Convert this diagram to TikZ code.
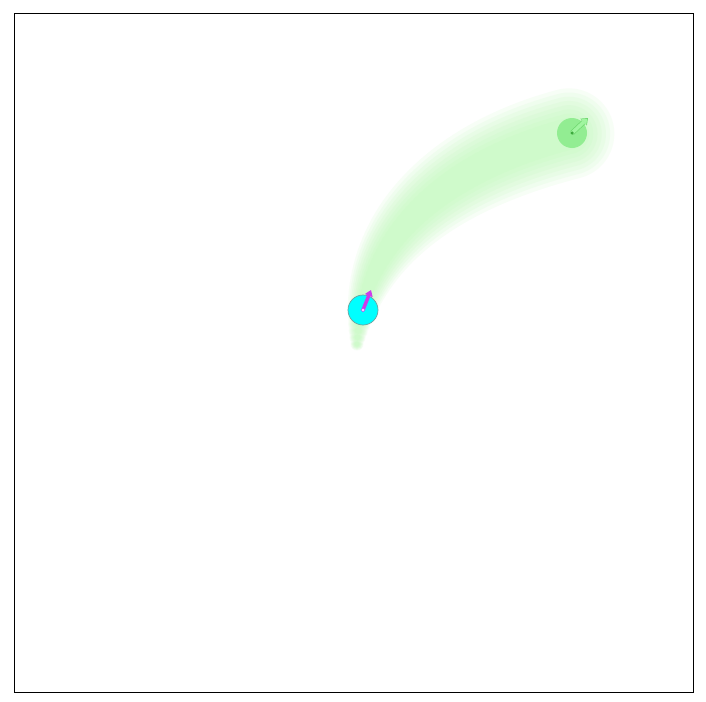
\documentclass[tikz,border=0pt]{standalone}
\usetikzlibrary{arrows.meta}
\definecolor{blobgreen}{RGB}{192,250,186}
\definecolor{agentcyan}{RGB}{0,255,255}
\definecolor{agentedge}{RGB}{110,160,160}
\definecolor{headmag}{RGB}{205,60,235}
\definecolor{goalfill}{RGB}{140,236,140}
\definecolor{goaldot}{RGB}{60,170,60}
\definecolor{goalarrow}{RGB}{160,245,160}
\definecolor{goalarrowedge}{RGB}{110,215,110}
\tikzset{
  blobdot/.style={circle, fill=blobgreen, inner sep=0pt, draw=none},
  frame/.style={draw=black, line width=0.9pt},
}
\begin{document}
\begin{tikzpicture}[x=1pt,y=-1pt]
\useasboundingbox (0,0) rectangle (706,701);
\fill[white] (0,0) rectangle (706,701);
% soft blob (uncertainty trail)
\foreach \f/\op in {1.3/0.12,1.18/0.13,1.06/0.14,0.94/0.15,0.82/0.15,0.7/0.16,0.58/0.17,0.46/0.18}{
  \begin{scope}[transparency group, opacity=\op]
    \foreach \t in {0,0.02,...,1.0}{
      \pgfmathsetmacro\rr{\f*(5+30*(1-(1-\t)^2))}
      \path (357,344) .. controls (364,230) and (455,162) .. (576,132)
        node[blobdot, pos=\t, minimum size=2*\rr] {};
    }
  \end{scope}
}
\draw[frame] (14,13) rectangle (693,692);
% goal
\node[circle, fill=goalfill, fill opacity=0.9, inner sep=0pt, minimum size=30] (goal) at (572,133) {};
\draw[goalarrowedge, line width=5pt, -{Triangle[length=6pt,width=9pt]}] (goal.center) -- (588,118);
\draw[goalarrow, line width=3.6pt, -{Triangle[length=4.8pt,width=7.2pt]}] (goal.center) -- (587.2,118.8);
\node[circle, fill=goaldot, inner sep=0pt, minimum size=3.5] (goalc) at (goal.center) {};
% agent
\node[circle, fill=agentcyan, draw=agentedge, line width=0.7pt, inner sep=0pt, minimum size=30] (agent) at (363,310) {};
\coordinate (head) at (371,290);
\draw[headmag, line width=3.5pt, -{Triangle[length=6pt,width=8pt]}] (agent.center) -- (head);
\node[circle, fill=white, draw=headmag, line width=0.6pt, inner sep=0pt, minimum size=3.5] (agentc) at (agent.center) {};
\end{tikzpicture}
\end{document}
